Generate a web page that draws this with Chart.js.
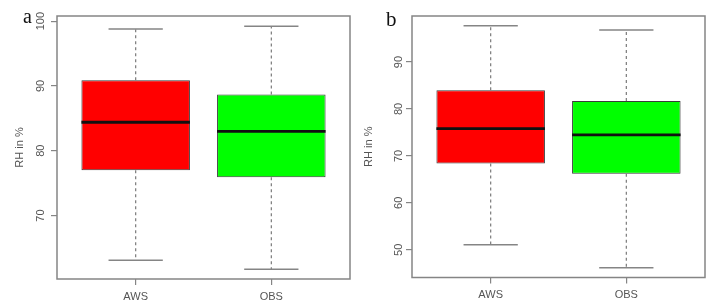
<!DOCTYPE html>
<html>
<head>
<meta charset="utf-8">
<script src="https://cdn.jsdelivr.net/npm/chart.js@4/dist/chart.umd.min.js"></script>
<style>
  html, body { margin: 0; padding: 0; background: #fff; }
  #wrap { position: relative; width: 712px; height: 305px; overflow: hidden; }
  canvas { position: absolute; top: 0; }
  .tag { position: absolute; font-family: "Liberation Serif", "DejaVu Serif", serif; color: #111; line-height: 1; }
</style>
</head>
<body>
<div id="wrap">
  <canvas id="chartA" width="356" height="305" style="left:0"></canvas>
  <canvas id="chartB" width="356" height="305" style="left:356px"></canvas>
  <div class="tag" style="left:23px; top:6px; font-size:20px;">a</div>
  <div class="tag" style="left:386px; top:9px; font-size:21px;">b</div>
</div>
<script>
const categories = ['AWS', 'OBS'];
const boxColors = ['#ff0000', '#00ff00'];

// panel a
const aMin = [63.1, 61.7];
const aQ1 = [77.0, 75.9];
const aMedian = [84.4, 83.0];
const aQ3 = [90.9, 88.7];
const aMax = [98.8, 99.2];
const aTicks = [70, 80, 90, 100];

// panel b
const bMin = [51.1, 46.2];
const bQ1 = [68.4, 66.2];
const bMedian = [75.8, 74.5];
const bQ3 = [84.0, 81.7];
const bMax = [97.7, 96.8];
const bTicks = [50, 60, 70, 80, 90];

const gray = '#858585';
const labelGray = '#555555';

// whiskers, caps, medians and the R style frame
const boxExtras = {
    id: 'boxExtras',
    afterDatasetsDraw(chart, args, opts) {
        const { ctx, chartArea: ca, scales: { x, y } } = chart;
        ctx.save();
        opts.mins.forEach((mn, i) => {
            const cx = x.getPixelForValue(i + 1);
            const capL = x.getPixelForValue(i + 1 - 0.2);
            const capR = x.getPixelForValue(i + 1 + 0.2);
            const boxL = x.getPixelForValue(i + 1 - 0.4);
            const boxR = x.getPixelForValue(i + 1 + 0.4);

            // dashed whiskers
            ctx.strokeStyle = '#7a7a7a';
            ctx.lineWidth = 1.2;
            ctx.setLineDash([3, 3]);
            ctx.beginPath();
            ctx.moveTo(cx, y.getPixelForValue(opts.q3[i]));
            ctx.lineTo(cx, y.getPixelForValue(opts.maxs[i]));
            ctx.moveTo(cx, y.getPixelForValue(opts.q1[i]));
            ctx.lineTo(cx, y.getPixelForValue(mn));
            ctx.stroke();
            ctx.setLineDash([]);

            // caps
            ctx.strokeStyle = gray;
            ctx.lineWidth = 1.5;
            ctx.beginPath();
            ctx.moveTo(capL, y.getPixelForValue(opts.maxs[i]));
            ctx.lineTo(capR, y.getPixelForValue(opts.maxs[i]));
            ctx.moveTo(capL, y.getPixelForValue(mn));
            ctx.lineTo(capR, y.getPixelForValue(mn));
            ctx.stroke();

            // median
            ctx.strokeStyle = '#111';
            ctx.lineWidth = 2.8;
            ctx.beginPath();
            ctx.moveTo(boxL, y.getPixelForValue(opts.med[i]));
            ctx.lineTo(boxR, y.getPixelForValue(opts.med[i]));
            ctx.stroke();
        });
        // frame
        ctx.strokeStyle = gray;
        ctx.lineWidth = 1.5;
        ctx.strokeRect(ca.left, ca.top, ca.right - ca.left, ca.bottom - ca.top);
        ctx.restore();
    }
};

function makeBoxChart(id, mins, q1, med, q3, maxs, yMin, yMax, yTicks, dims) {
    const boxes = categories.map((c, i) => ({ x: i + 1, y: [q1[i], q3[i]] }));
    return new Chart(document.getElementById(id), {
        type: 'bar',
        data: {
            datasets: [{
                data: boxes,
                backgroundColor: boxColors,
                borderColor: '#3a3a3a',
                borderWidth: 1,
                borderSkipped: false,
                barPercentage: 0.8,
                categoryPercentage: 1.0
            }]
        },
        options: {
            responsive: false,
            animation: false,
            events: [],
            layout: { padding: { top: dims.top, right: dims.right, left: 0, bottom: 0 } },
            plugins: {
                legend: { display: false },
                tooltip: { enabled: false },
                boxExtras: { mins, q1, med, q3, maxs }
            },
            scales: {
                x: {
                    type: 'linear',
                    min: 0.42, max: 2.58,
                    offset: false,
                    afterBuildTicks: s => { s.ticks = categories.map((c, i) => ({ value: i + 1 })); },
                    afterFit: s => { s.height = dims.bottom; },
                    border: { display: false },
                    grid: { offset: false, drawOnChartArea: false, drawTicks: true, tickLength: 6, color: gray, lineWidth: 1.2 },
                    ticks: {
                        callback: v => categories[v - 1],
                        color: labelGray,
                        font: { family: 'Liberation Sans, Arial, sans-serif', size: 11 },
                        padding: 5,
                        maxRotation: 0
                    }
                },
                y: {
                    min: yMin, max: yMax,
                    afterBuildTicks: s => { s.ticks = yTicks.map(v => ({ value: v })); },
                    afterFit: s => { s.width = dims.left; },
                    border: { display: false },
                    grid: { drawOnChartArea: false, drawTicks: true, tickLength: 6, color: gray, lineWidth: 1.2 },
                    ticks: {
                        color: labelGray,
                        font: { family: 'Liberation Sans, Arial, sans-serif', size: 11 },
                        minRotation: 90, maxRotation: 90,
                        crossAlign: 'center',
                        padding: 1
                    },
                    title: {
                        display: true,
                        text: 'RH in %',
                        color: labelGray,
                        font: { family: 'Liberation Sans, Arial, sans-serif', size: 11 },
                        padding: { top: dims.titlePad, bottom: 0 }
                    }
                }
            }
        },
        plugins: [boxExtras]
    });
}

makeBoxChart('chartA', aMin, aQ1, aMedian, aQ3, aMax, 60.2, 100.8, aTicks,
    { left: 57, right: 6, top: 16, bottom: 26, titlePad: 13 });
makeBoxChart('chartB', bMin, bQ1, bMedian, bQ3, bMax, 44.1, 99.8, bTicks,
    { left: 56, right: 7, top: 16, bottom: 27.5, titlePad: 6 });
</script>
</body>
</html>
